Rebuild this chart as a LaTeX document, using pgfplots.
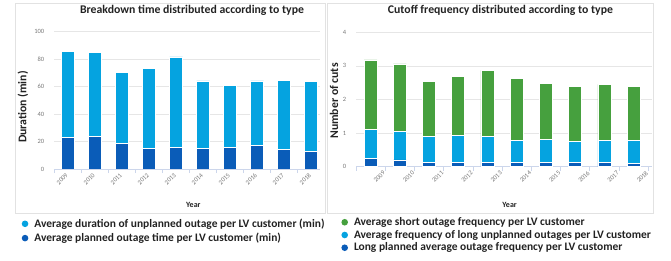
\documentclass[border=0pt]{standalone}
\usepackage{pgfplots}
\pgfplotsset{compat=1.18}
\usepackage{fontspec}
\setmainfont{Carlito}
\definecolor{lblue}{HTML}{05A3E0}
\definecolor{dblue}{HTML}{0A5CB8}
\definecolor{gr}{HTML}{46A03E}
\definecolor{xaxc}{HTML}{CCD6EB}
\definecolor{gridc}{HTML}{E6E6E6}
\definecolor{tickc}{HTML}{777777}
\definecolor{txt}{HTML}{222222}
\definecolor{frame}{HTML}{E2E2E2}
\pgfplotsset{
  panel/.style={
    scale only axis,
    ybar stacked,
    bar width=13bp,
    axis x line*=bottom, axis y line*=left,
    x axis line style={draw=xaxc,line width=0.7pt},
    y axis line style={draw=none},
    ymajorgrids, grid style={color=gridc,line width=0.6pt},
    tick align=outside,
    xtick style={color=xaxc,line width=0.6pt},
    ytick style={draw=none},
    minor tick length=4bp,
    ticklabel style={font=\fontsize{6.5}{7}\selectfont, color=tickc},
    /pgf/number format/assume math mode=true,
    xticklabel style={rotate=45, anchor=east, inner sep=1.5bp},
    yticklabel style={xshift=-2bp},
    title style={font=\fontsize{11.8}{13}\bfseries, color=txt, anchor=center},
    label style={font=\fontsize{11.8}{13}\bfseries, color=txt},
    reverse legend,
    legend style={draw=none, fill=none, inner sep=0pt, anchor=north west,
      font=\fontsize{11.5}{13}\bfseries, text=txt,
      nodes={inner sep=1bp}, row sep=2.3bp, column sep=5bp},
    legend cell align=left,
  },
  dot/.style={legend image code/.code={\fill[#1, draw=none] (0bp,0bp) circle (3.3bp);}},
}
\begin{document}
\begin{tikzpicture}
\path[use as bounding box] (0,0) rectangle (671bp,261bp);
\draw[frame, line width=0.6pt] (15bp,48bp) rectangle (325bp,258bp);
\draw[frame, line width=0.6pt] (327bp,48bp) rectangle (653bp,258bp);
\begin{axis}[panel,
  at={(54bp,92bp)}, anchor=south west,
  width=266bp, height=137.3bp,
  xmin=-0.52, xmax=9.33, ymin=0, ymax=100,
  ytick={0,20,40,60,80,100},
  xtick={0,...,9}, major x tick style={draw=none},
  xticklabels={2009,2010,2011,2012,2013,2014,2015,2016,2017,2018},
  minor xtick={-0.5,0.5,...,8.5},
  title={Breakdown time distributed according to type},
  title style={at={(0.519,1.114)}},
  ylabel={Duration (min)},
  ylabel style={at={(-0.1165,0.4516)}, anchor=center},
  xlabel={Year},
  xlabel style={at={(0.524,-0.262)}, anchor=center, font=\fontsize{8}{9}\bfseries},
  legend style={at={(-0.122,-0.354)}},
]
\addplot[fill=dblue, draw=white, line width=0.6pt, dot] coordinates {
 (0,23.3) (1,23.8) (2,18.7) (3,15.0) (4,15.5) (5,15.0) (6,16.0) (7,17.2) (8,14.3) (9,12.6)};
\addplot[fill=lblue, draw=white, line width=0.6pt, dot] coordinates {
 (0,62.1) (1,61.2) (2,51.4) (3,58.3) (4,66.1) (5,49.1) (6,44.7) (7,46.9) (8,50.5) (9,51.0)};
\legend{Average planned outage time per LV customer (min), Average duration of unplanned outage per LV customer (min)}
\end{axis}
\begin{axis}[panel,
  at={(356bp,94.3bp)}, anchor=south west,
  width=296bp, height=134.4bp,
  xmin=-0.5, xmax=9.63, ymin=0, ymax=4,
  ytick={0,1,2,3,4},
  xtick={0.5,1.5,...,9.5},
  xticklabels={2009,2010,2011,2012,2013,2014,2015,2016,2017,2018},
  minor xtick={-0.5},
  title={Cutoff frequency distributed according to type},
  title style={at={(0.488,1.121)}},
  ylabel={Number of cuts},
  ylabel style={at={(-0.0743,0.489)}, anchor=center},
  xlabel={Year},
  xlabel style={at={(0.519,-0.285)}, anchor=center, font=\fontsize{8}{9}\bfseries},
  legend style={at={(-0.050,-0.369)}, row sep=1.2bp},
]
\addplot[fill=dblue, draw=white, line width=0.6pt, dot] coordinates {
 (0,0.24) (1,0.20) (2,0.13) (3,0.12) (4,0.12) (5,0.12) (6,0.12) (7,0.13) (8,0.12) (9,0.09)};
\addplot[fill=lblue, draw=white, line width=0.6pt, dot] coordinates {
 (0,0.87) (1,0.85) (2,0.77) (3,0.81) (4,0.79) (5,0.66) (6,0.69) (7,0.62) (8,0.66) (9,0.69)};
\addplot[fill=gr, draw=white, line width=0.6pt, dot] coordinates {
 (0,2.07) (1,2.01) (2,1.65) (3,1.75) (4,1.96) (5,1.85) (6,1.68) (7,1.65) (8,1.67) (9,1.60)};
\legend{Long planned average outage frequency per LV customer, Average frequency of long unplanned outages per LV customer, Average short outage frequency per LV customer}
\end{axis}
\end{tikzpicture}
\end{document}
